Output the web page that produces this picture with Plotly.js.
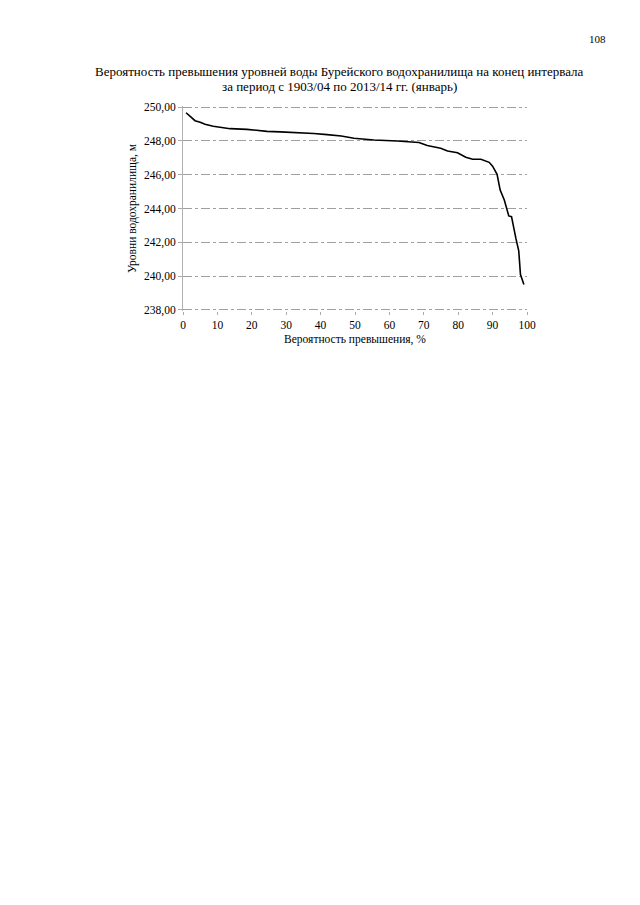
<!DOCTYPE html>
<html>
<head>
<meta charset="utf-8">
<script src="https://cdn.plot.ly/plotly-3.0.1.min.js"></script>
<style>html,body{margin:0;padding:0;background:#fff;}#chart{width:640px;height:905px;}</style>
</head>
<body>
<div id="chart"></div>
<script>
const probability = [0.9, 3.5, 5.0, 6.4, 8.8, 13.7, 18.6, 24.4, 28.3, 33.1, 38.0, 41.9, 46.0, 49.7, 55.5, 62.3, 68.6, 71.0, 74.9, 76.9, 79.8, 82.2, 84.2, 86.6, 89.0, 90.0, 90.5, 91.3, 92.2, 93.4, 94.7, 95.5, 96.8, 97.6, 98.1, 99.1];
const levels = [249.66, 249.19, 249.10, 248.98, 248.86, 248.72, 248.68, 248.56, 248.53, 248.49, 248.43, 248.37, 248.29, 248.15, 248.05, 247.99, 247.90, 247.72, 247.56, 247.40, 247.30, 247.03, 246.91, 246.91, 246.73, 246.50, 246.30, 246.02, 245.09, 244.50, 243.56, 243.52, 242.20, 241.50, 240.10, 239.50];
const xTicks = [0, 10, 20, 30, 40, 50, 60, 70, 80, 90, 100];
const yTicks = [238, 240, 242, 244, 246, 248, 250];
const titleLines = ['Вероятность превышения уровней воды Бурейского водохранилища на конец интервала', 'за период с 1903/04 по 2013/14 гг. (январь)'];

const fam = 'Liberation Serif';
const f = (size) => ({family: fam, size: size, color: '#000'});

const PL = 183, PW = 344, PT = 106, PH = 205;
const px = (x) => (x - PL) / PW;
const py = (y) => (PT + PH - y) / PH;

Plotly.newPlot('chart', [{
  x: probability,
  y: levels,
  type: 'scatter',
  mode: 'lines',
  line: {color: '#000', width: 1.6},
  hoverinfo: 'skip'
}], {
  width: 640,
  height: 905,
  margin: {l: PL, r: 640 - PL - PW, t: PT, b: 905 - PT - PH},
  paper_bgcolor: '#fff',
  plot_bgcolor: '#fff',
  separators: ',.',
  showlegend: false,
  font: f(11),
  xaxis: {
    range: [0, 100],
    tickvals: xTicks,
    ticktext: xTicks.map(String),
    showgrid: false,
    zeroline: false,
    showline: false,
    ticks: 'outside', ticklen: 3, tickcolor: '#aaa',
    tickfont: f(11.5),
    title: {text: 'Вероятность превышения, %', font: f(11.5), standoff: 5}
  },
  yaxis: {
    range: [237.94, 250.06],
    tickvals: yTicks,
    tickformat: '.2f',
    showgrid: true, gridcolor: '#a0a0a0', griddash: 'dashdot', gridwidth: 1,
    zeroline: false,
    showline: true, linecolor: '#b0b0b0', linewidth: 1,
    ticks: 'outside', ticklen: 4, tickcolor: '#aaa',
    tickfont: f(11.5),
    title: {text: 'Уровни водохранилища, м', font: f(11.5), standoff: 5}
  },
  annotations: [
    {text: titleLines[0], showarrow: false, xref: 'paper', yref: 'paper',
     x: px(339), y: py(71), xanchor: 'center', yanchor: 'middle', font: f(13)},
    {text: titleLines[1], showarrow: false, xref: 'paper', yref: 'paper',
     x: px(339), y: py(87), xanchor: 'center', yanchor: 'middle', font: f(13)},
    {text: '108', showarrow: false, xref: 'paper', yref: 'paper',
     x: px(597), y: py(39), xanchor: 'center', yanchor: 'middle', font: f(11)}
  ]
}, {staticPlot: true});
</script>
</body>
</html>
